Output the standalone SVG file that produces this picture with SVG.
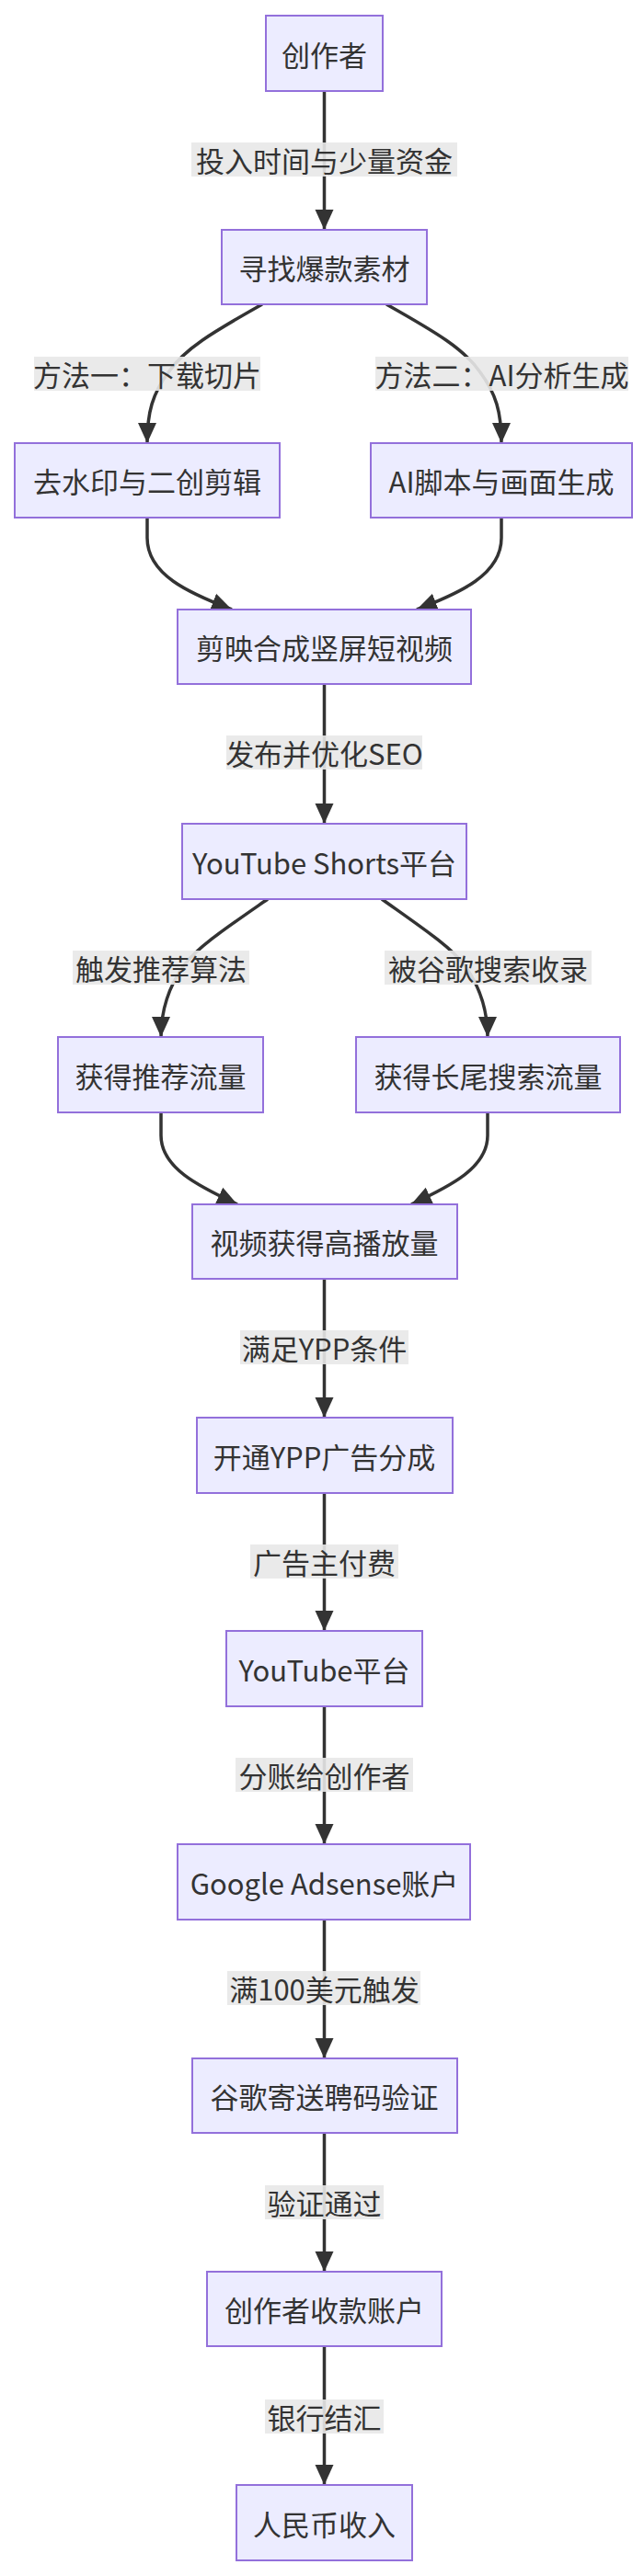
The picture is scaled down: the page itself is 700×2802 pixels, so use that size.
<svg xmlns="http://www.w3.org/2000/svg" width="700" height="2802" viewBox="0 0 700 2802">
<defs>
<style>
.n rect{fill:#ECECFF;stroke:#9370DB;stroke-width:2}
text{font-family:"Noto Sans CJK SC","Noto Sans",sans-serif;font-size:31px;fill:#333;text-anchor:middle;dominant-baseline:central}
.e path{fill:none;stroke:#333;stroke-width:3.5}
.l rect{fill:#e8e8e8;opacity:0.9}
</style>
<marker id="a" markerUnits="userSpaceOnUse" markerWidth="24" markerHeight="24" viewBox="0 0 24 24" refX="22" refY="12" orient="auto">
<path d="M0,2 L22,12 L0,22 z" fill="#333"/>
</marker>
</defs>
<rect width="700" height="2802" fill="#fff"/>
<g class="e">
<path d="M352.5,99 V250" marker-end="url(#a)"/>
<path d="M285,331 C230,362 200,380 183,405 C166,428 160,448 160,482" marker-end="url(#a)"/>
<path d="M420,331 C475,362 505,380 522,405 C539,428 545,448 545,482" marker-end="url(#a)"/>
<path d="M160,563 L160,585 C160,625 205,645 252,663" marker-end="url(#a)"/>
<path d="M545,563 L545,585 C545,625 500,645 453,663" marker-end="url(#a)"/>
<path d="M352.5,744 V896" marker-end="url(#a)"/>
<path d="M291,978 C245,1010 215,1030 200,1050 C182,1075 175,1100 175,1128" marker-end="url(#a)"/>
<path d="M415,978 C460,1010 490,1030 505,1050 C523,1075 530,1100 530,1128" marker-end="url(#a)"/>
<path d="M175,1210 L175,1235 C175,1270 215,1290 258,1310" marker-end="url(#a)"/>
<path d="M530,1210 L530,1235 C530,1270 490,1290 447,1310" marker-end="url(#a)"/>
<path d="M352.5,1391 V1542" marker-end="url(#a)"/>
<path d="M352.5,1624 V1774" marker-end="url(#a)"/>
<path d="M352.5,1856 V2006" marker-end="url(#a)"/>
<path d="M352.5,2088 V2239" marker-end="url(#a)"/>
<path d="M352.5,2320 V2471" marker-end="url(#a)"/>
<path d="M352.5,2552 V2703" marker-end="url(#a)"/>
</g>
<g class="l">
<rect x="208" y="155" width="289" height="37"/><text x="352.5" y="173.5">投入时间与少量资金</text>
<rect x="37" y="388" width="246" height="37"/><text x="160" y="406.5">方法一：下载切片</text>
<rect x="408" y="388" width="275" height="37"/><text x="545.5" y="406.5">方法二：AI分析生成</text>
<rect x="246" y="800" width="213" height="37"/><text x="352.5" y="818.5">发布并优化SEO</text>
<rect x="79" y="1034" width="192" height="37"/><text x="175" y="1052.5">触发推荐算法</text>
<rect x="418" y="1034" width="225" height="37"/><text x="530.5" y="1052.5">被谷歌搜索收录</text>
<rect x="261" y="1447" width="183" height="37"/><text x="352.5" y="1465.5">满足YPP条件</text>
<rect x="272" y="1680" width="161" height="37"/><text x="352.5" y="1698.5">广告主付费</text>
<rect x="256" y="1912" width="193" height="37"/><text x="352.5" y="1930.5">分账给创作者</text>
<rect x="247" y="2144" width="210" height="37"/><text x="352.5" y="2162.5">满100美元触发</text>
<rect x="288" y="2377" width="129" height="37"/><text x="352.5" y="2395.5">验证通过</text>
<rect x="288" y="2610" width="129" height="37"/><text x="352.5" y="2628.5">银行结汇</text>
</g>
<g id="n1" class="n"><rect x="289" y="17" width="127" height="82"/><text x="352.5" y="58">创作者</text></g>
<g id="n2" class="n"><rect x="241" y="250" width="223" height="81"/><text x="352.5" y="290.5">寻找爆款素材</text></g>
<g id="n3" class="n"><rect x="16" y="482" width="288" height="81"/><text x="160" y="522.5">去水印与二创剪辑</text></g>
<g id="n4" class="n"><rect x="403" y="482" width="284" height="81"/><text x="545" y="522.5">AI脚本与画面生成</text></g>
<g id="n5" class="n"><rect x="193" y="663" width="319" height="81"/><text x="352.5" y="703.5">剪映合成竖屏短视频</text></g>
<g id="n6" class="n"><rect x="198" y="896" width="309" height="82"/><text x="352.5" y="937">YouTube Shorts平台</text></g>
<g id="n7" class="n"><rect x="63" y="1128" width="223" height="82"/><text x="174.5" y="1169">获得推荐流量</text></g>
<g id="n8" class="n"><rect x="387" y="1128" width="287" height="82"/><text x="530.5" y="1169">获得长尾搜索流量</text></g>
<g id="n9" class="n"><rect x="209" y="1310" width="288" height="81"/><text x="352.5" y="1350.5">视频获得高播放量</text></g>
<g id="n10" class="n"><rect x="214" y="1542" width="278" height="82"/><text x="352.5" y="1583">开通YPP广告分成</text></g>
<g id="n11" class="n"><rect x="246" y="1774" width="213" height="82"/><text x="352.5" y="1815">YouTube平台</text></g>
<g id="n12" class="n"><rect x="193" y="2006" width="318" height="82"/><text x="352.5" y="2047">Google Adsense账户</text></g>
<g id="n13" class="n"><rect x="209" y="2239" width="288" height="81"/><text x="352.5" y="2279.5">谷歌寄送聘码验证</text></g>
<g id="n14" class="n"><rect x="225" y="2471" width="255" height="81"/><text x="352.5" y="2511.5">创作者收款账户</text></g>
<g id="n15" class="n"><rect x="257" y="2703" width="191" height="82"/><text x="352.5" y="2744">人民币收入</text></g>
</svg>
